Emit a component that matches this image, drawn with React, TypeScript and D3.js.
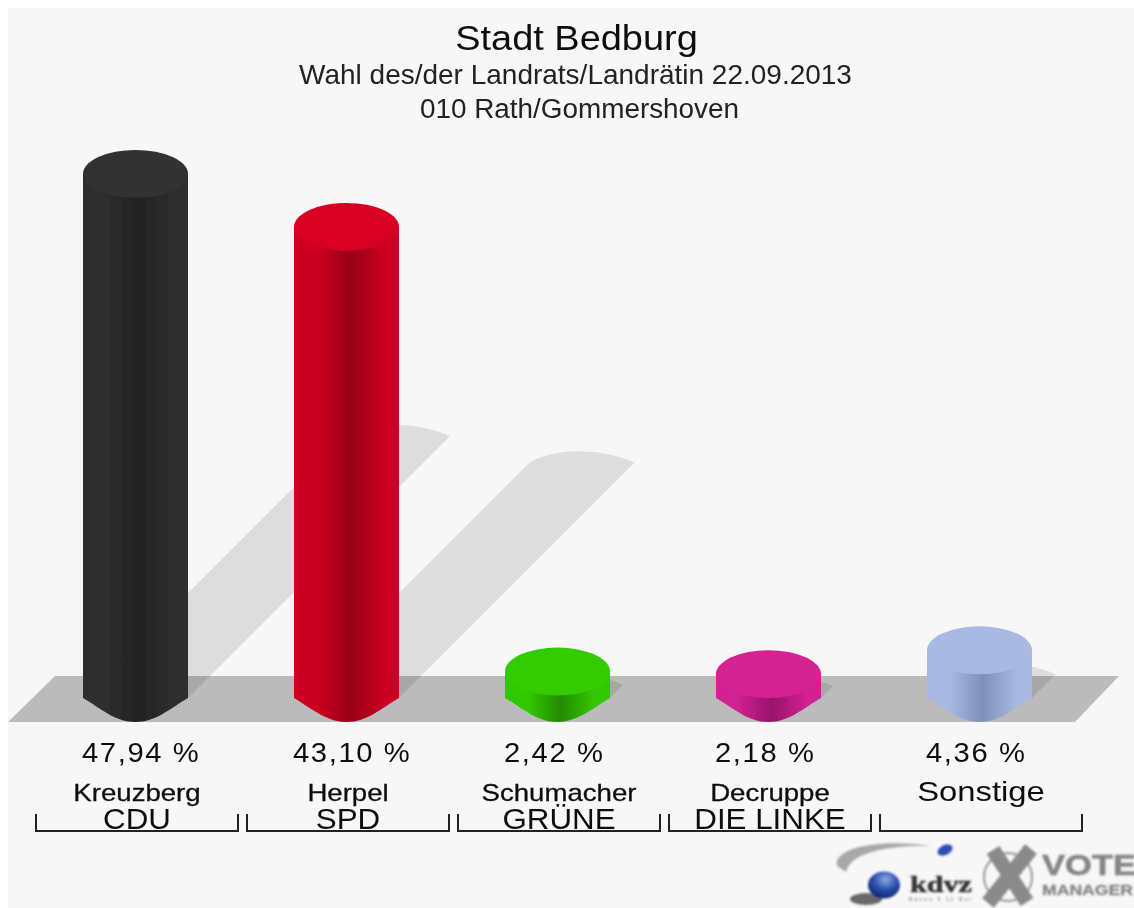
import React from "react";
import * as d3 from "d3";

const candidates = ["Kreuzberg", "Herpel", "Schumacher", "Decruppe", "Sonstige"];
const parties = ["CDU", "SPD", "GRÜNE", "DIE LINKE", ""];
const values = [47.94, 43.1, 2.42, 2.18, 4.36];
const valueLabels = ["47,94 %", "43,10 %", "2,42 %", "2,18 %", "4,36 %"];
const capColors = ["#303030", "#d80024", "#33cc00", "#d42090", "#aab9e2"];
const edgeColors = ["#2e2e2e", "#cc0022", "#33c800", "#d02090", "#a8b8e0"];
const darkColors = ["#222222", "#970015", "#248a00", "#96146a", "#7f90b8"];
const titleLines = ["Stadt Bedburg", "Wahl des/der Landrats/Landrätin 22.09.2013", "010 Rath/Gommershoven"];

const FONT = "'Liberation Sans', Arial, Helvetica, sans-serif";

// Text widened horizontally, as it is in the reference.
function T({ x, y, sx, children, ...rest }: any) {
  return (
    <text transform={`translate(${x},${y}) scale(${sx},1)`} {...rest}>
      {children}
    </text>
  );
}

export default function App() {
  const x = d3.scaleBand<string>().domain(candidates).range([30, 1085]);
  const y = d3.scaleLinear().domain([0, 47.94]).range([698, 174]);
  const hw = 52.5;
  const ry = 24;
  const baseY = y(0);

  return (
    <svg
      width={1134}
      height={908}
      style={{ position: "absolute", left: 0, top: 0, display: "block" }}
    >
      <defs>
        <filter id="soft" x="-5%" y="-5%" width="110%" height="110%">
          <feGaussianBlur stdDeviation="0.55" />
        </filter>
        <filter id="softer" x="-20%" y="-20%" width="140%" height="140%">
          <feGaussianBlur stdDeviation="1.1" />
        </filter>
        {candidates.map((c, i) => (
          <linearGradient key={c} id={`side${i}`} x1="0" x2="1" y1="0" y2="0">
            <stop offset="0" stopColor={edgeColors[i]} />
            <stop offset="0.22" stopColor={edgeColors[i]} />
            <stop offset="0.53" stopColor={darkColors[i]} />
            <stop offset="0.85" stopColor={edgeColors[i]} />
            <stop offset="1" stopColor={edgeColors[i]} />
          </linearGradient>
        ))}
        <radialGradient id="sphere" cx="0.55" cy="0.3" r="0.75">
          <stop offset="0" stopColor="#8fa8e0" />
          <stop offset="0.5" stopColor="#2a4fb0" />
          <stop offset="1" stopColor="#0d2060" />
        </radialGradient>
      </defs>

      <rect x={8} y={8} width={1126} height={900} fill="#f7f7f7" />

      <g filter="url(#soft)">
        <path d="M8,722 L55,676 L1119,676 L1075,722 Z" fill="#bbbbbb" />

        {candidates.map((c, i) => {
          const cx = x(c)! + x.bandwidth() / 2;
          const h = baseY - y(values[i]);
          const s = h / 2;
          const tx = cx + s;
          const ty = baseY - s;
          const d = [
            `M${cx - hw},${baseY}`,
            `L${tx - hw},${ty}`,
            `C${tx - hw + 25},${ty - 15} ${tx + hw - 35},${ty - 15} ${tx + hw},${ty}`,
            `L${cx + hw},${baseY}`,
            "Z",
          ].join(" ");
          return <path key={c} d={d} fill="#000" opacity={0.1} />;
        })}

        {candidates.map((c, i) => {
          const cx = x(c)! + x.bandwidth() / 2;
          const l = cx - hw;
          const r = cx + hw;
          const top = y(values[i]);
          const side = [
            `M${l},${top}`,
            `L${l},${baseY}`,
            `C${l + 18},${baseY + 10.5} ${l + 32},${baseY + ry} ${cx},${baseY + ry}`,
            `C${r - 32},${baseY + ry} ${r - 18},${baseY + 10.5} ${r},${baseY}`,
            `L${r},${top}`,
            "Z",
          ].join(" ");
          return (
            <g key={c}>
              <path d={side} fill={`url(#side${i})`} />
              <ellipse cx={cx} cy={top} rx={hw} ry={ry} fill={capColors[i]} />
            </g>
          );
        })}

        <g fontFamily={FONT} textAnchor="middle" fill="#111">
          <T x={576.5} y={50} sx={1.1} fontSize={34.5}>{titleLines[0]}</T>
          <T x={575.5} y={84} sx={1.045} fontSize={26.8} fill="#222">{titleLines[1]}</T>
          <T x={579.5} y={118} sx={1.04} fontSize={26.8} fill="#222">{titleLines[2]}</T>
        </g>

        {candidates.map((c, i) => {
          const cx = x(c)! + x.bandwidth() / 2;
          const bx = cx + 1.5;
          const isLast = i === candidates.length - 1;
          return (
            <g key={c} fontFamily={FONT} fill="#111">
              <T x={cx - hw - 1} y={762} sx={1.08} fontSize={27} letterSpacing={1.5}>{valueLabels[i]}</T>
              <T
                x={bx}
                y={801}
                sx={isLast ? 1.17 : 1.2}
                fontSize={isLast ? 28 : 23}
                textAnchor="middle"
                strokeWidth={isLast ? 0 : 0.3}
                stroke="#111"
              >
                {c}
              </T>
              {parties[i] && (
                <T x={bx} y={829} sx={1.08} fontSize={29} textAnchor="middle">{parties[i]}</T>
              )}
              <path
                d={`M${bx - 101},814 V831 H${bx + 101} V814`}
                fill="none"
                stroke="#222"
                strokeWidth={2}
              />
            </g>
          );
        })}
      </g>

      <g filter="url(#softer)">
        <path d="M837,866 C832,848 880,838 930,846 C890,845 850,852 846,872 Z" fill="#a8a8a8" />
        <ellipse cx={945} cy={850} rx={8} ry={5} fill="#2a4fb0" transform="rotate(-25 945 850)" />
        <ellipse cx={866} cy={899} rx={16} ry={6} fill="#444" opacity={0.8} />
        <ellipse cx={884} cy={885} rx={16} ry={13.5} fill="url(#sphere)" />
        <text x={910} y={892} fontFamily="'Liberation Serif', serif" fontWeight="bold" fontSize={24} fill="#333" stroke="#333" strokeWidth={0.5} textLength={62} lengthAdjust="spacingAndGlyphs">kdvz</text>
        <text x={909} y={901} fontFamily={FONT} fontSize={5} fill="#777" textLength={62}>Bauen  5.11  Bur</text>
        <circle cx={1008} cy={877} r={24} fill="none" stroke="#999" strokeWidth={2} />
        <path d="M993,850 L1027,902 M1031,849 L988,903" stroke="#8a8a8a" strokeWidth={15} fill="none" />
        <text x={1042} y={875} fontFamily={FONT} fontWeight="bold" fontSize={30} fill="#858585" stroke="#858585" strokeWidth={0.6} textLength={94} lengthAdjust="spacingAndGlyphs">VOTE</text>
        <text x={1042} y={895} fontFamily={FONT} fontWeight="bold" fontSize={15} fill="#858585" stroke="#858585" strokeWidth={0.3} textLength={91} lengthAdjust="spacingAndGlyphs">MANAGER</text>
      </g>
    </svg>
  );
}
